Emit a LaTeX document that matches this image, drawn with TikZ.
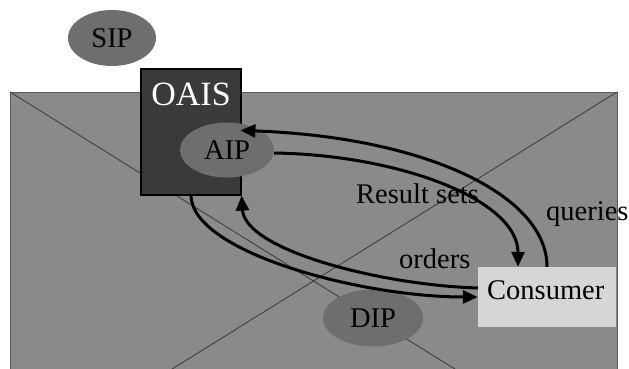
\documentclass[tikz,border=0pt]{standalone}
\usepackage{fontspec}
\setmainfont{Liberation Serif}
\usetikzlibrary{arrows.meta,shapes.geometric}
\definecolor{bggray}{RGB}{138,138,138}
\definecolor{ellgray}{RGB}{110,110,110}
\definecolor{oaisgray}{RGB}{58,58,58}
\definecolor{congray}{RGB}{214,214,214}
\begin{document}
\begin{tikzpicture}[x=1pt,y=-1pt,
  pkg/.style={ellipse,fill=ellgray,inner sep=0pt,font=\fontsize{28.5}{28.5}\selectfont},
  lbl/.style={inner sep=0pt,font=\fontsize{28.5}{28.5}\selectfont,anchor=base west},
  flow/.style={line width=3pt,-{Triangle[length=15pt,width=13pt]}}]
\useasboundingbox (0,0) rectangle (629,369);
\clip (0,0) rectangle (629,369);
\fill[white] (0,0) rectangle (629,369);
% background panel with cross
\draw[fill=bggray,draw=black!65,line width=1pt] (10,92) rectangle (617,470);
\draw[black!75,line width=0.9pt] (10,92) -- (617,470);
\draw[black!75,line width=0.9pt] (617,92) -- (10,470);
% nodes
\node[pkg,minimum width=88pt,minimum height=56pt] (sip) at (112,38) {SIP};
\node[draw=black,line width=1.2pt,fill=oaisgray,minimum width=100pt,minimum height=126pt,inner sep=0pt] (oais) at (191,132) {};
\node[text=white,inner sep=0pt,font=\fontsize{34}{34}\selectfont] (oaist) at (191,94) {OAIS};
\node[pkg,minimum width=94pt,minimum height=55pt] (aip) at (227,150) {AIP};
\node[pkg,minimum width=100pt,minimum height=57pt] (dip) at (373,318) {DIP};
\node[fill=congray,minimum width=138pt,minimum height=60pt,inner sep=0pt] (con) at (547,297) {};
\node[lbl] (cont) at (487,299) {Consumer};
% connectors
\draw[flow] (con.north) .. controls (547,195) and (425,137) .. ([xshift=-20pt]aip.north east);
\draw[flow] ([yshift=-3pt]aip.east) .. controls (400,155) and (518,200) .. ([xshift=-29pt]con.north);
\draw[flow] ([yshift=9pt]con.west) .. controls (380,285) and (245,250) .. (oais.south east);
\draw[flow] (oais.south) .. controls (192,252) and (360,297) .. (con.west);
% labels
\node[lbl] (rs) at (356,203) {Result sets};
\node[lbl] (qu) at (546,220) {queries};
\node[lbl] (or) at (399,268) {orders};
\end{tikzpicture}
\end{document}
